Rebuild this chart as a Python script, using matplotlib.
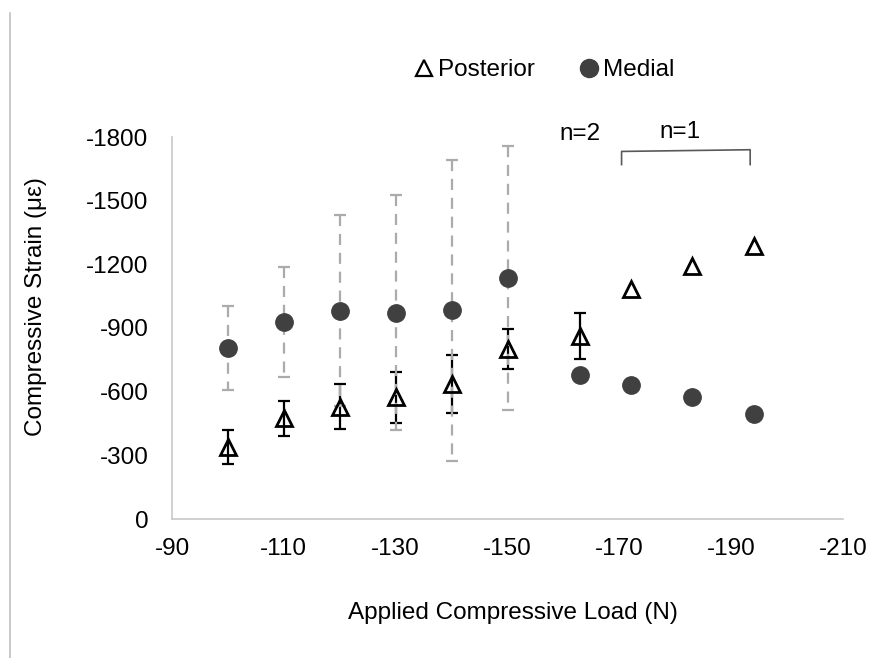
import matplotlib
matplotlib.use("Agg")
import matplotlib.pyplot as plt
from matplotlib.lines import Line2D

plt.rcParams['font.family'] = ['Liberation Sans', 'DejaVu Sans']

# Data (loads in N, strains in microstrain)
load_group = [-100, -110, -120, -130, -140, -150]
posterior_mean = [-340, -475, -528, -573, -635, -800]
posterior_err = [80, 83, 106, 120, 136, 93]
medial_mean = [-808, -928, -982, -973, -983, -1135]
medial_err = [198, 260, 450, 552, 710, 622]

load_n2 = [-163]
posterior_n2 = [-862]
posterior_n2_err = [110]
medial_n2 = [-679]

load_n1 = [-172, -183, -194]
posterior_n1 = [-1083, -1190, -1287]
medial_n1 = [-632, -577, -495]

x_ticks = [-90, -110, -130, -150, -170, -190, -210]
y_ticks = [0, -300, -600, -900, -1200, -1500, -1800]

FS = 17.5
fig = plt.figure(figsize=(8.73, 6.58), dpi=100)
ax = fig.add_axes([172/873, 1-519/658, (843-172)/873, (519-137)/658])

medial_color = '#404040'
gray = '#ABABAB'

# posterior error bars (black)
ax.errorbar(load_group + load_n2, posterior_mean + posterior_n2,
            yerr=posterior_err + posterior_n2_err, fmt='none',
            ecolor='black', elinewidth=1.6, capsize=4.5, capthick=1.6, zorder=2)
# medial error bars (gray dashed)
eb = ax.errorbar(load_group, medial_mean, yerr=medial_err, fmt='none',
                 ecolor=gray, elinewidth=1.6, capsize=4, capthick=1.6, zorder=3)
for lc in eb[2]:
    lc.set_linestyle((0, (5, 3.5)))

all_load = load_group + load_n2 + load_n1
ax.plot(all_load, posterior_mean + posterior_n2 + posterior_n1, linestyle='none',
        marker='^', ms=11, mfc='none', mec='black', mew=2, zorder=4)
ax.plot(all_load, medial_mean + medial_n2 + medial_n1, linestyle='none',
        marker='o', ms=12.5, mfc=medial_color, mec=medial_color, zorder=4)

ax.set_xlim(-90, -210)
ax.set_ylim(0, -1800)
ax.set_xticks(x_ticks)
ax.set_yticks(y_ticks)
ax.set_xticklabels([str(v) for v in x_ticks], fontsize=FS)
ax.set_yticklabels([str(v) for v in y_ticks], fontsize=FS)
ax.tick_params(axis='x', length=0, pad=14)
ax.tick_params(axis='y', length=0, pad=17)
for s in ['top', 'right']:
    ax.spines[s].set_visible(False)
for s in ['left', 'bottom']:
    ax.spines[s].set_color('#C8C8C8')
    ax.spines[s].set_linewidth(1.2)

fig.text(513/873, 1-613/658, 'Applied Compressive Load (N)', fontsize=FS,
         ha='center', va='center')
fig.text(36/873, 1-307/658, 'Compressive Strain (με)', fontsize=FS,
         ha='center', va='center', rotation=90)

# annotations
ax.text(-163, -1812, 'n=2', fontsize=FS, ha='center', va='center', clip_on=False)
ax.text(-180.8, -1825, 'n=1', fontsize=FS, ha='center', va='center', clip_on=False)
ax.plot([-170.4, -170.4, -193.4, -193.4], [-1670, -1732, -1740, -1670],
        color='#595959', lw=1.2, clip_on=False)

# legend
handles = [Line2D([], [], linestyle='none', marker='^', ms=11, mfc='none', mec='black', mew=1.6),
           Line2D([], [], linestyle='none', marker='o', ms=13, mfc=medial_color, mec=medial_color)]
fig.legend(handles, ['Posterior', 'Medial'], loc='center',
           bbox_to_anchor=(545/873, 1-70/658), ncol=2, frameon=False,
           fontsize=FS, handlelength=0.7, handletextpad=0.2, columnspacing=1.9)

# left border line of the original image
fig.add_artist(Line2D([9.5/873, 9.5/873], [0, 1-13/658], color='#C0C0C0', lw=1.2))

fig.savefig('out.png', dpi=100)
